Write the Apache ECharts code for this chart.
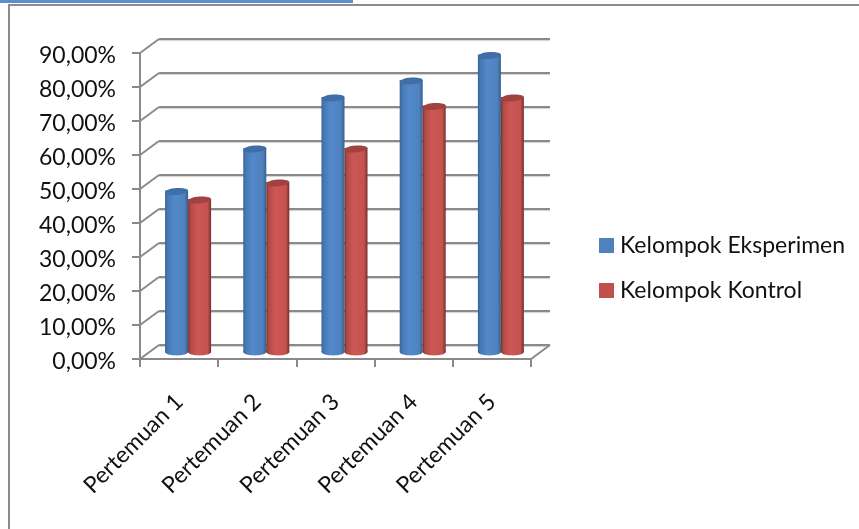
<!DOCTYPE html>
<html>
<head>
<meta charset="utf-8">
<style>html,body{margin:0;padding:0;background:#fff}#chart{width:859px;height:529px}</style>
<script src="https://cdn.jsdelivr.net/npm/echarts@6/dist/echarts.min.js"></script>
</head>
<body>
<div id="chart"></div>
<script>
// Attainment per meeting, in percent
const categories = ['Pertemuan 1', 'Pertemuan 2', 'Pertemuan 3', 'Pertemuan 4', 'Pertemuan 5'];
const eksperimen = [47.5, 60, 75, 80, 87.5];
const kontrol = [45, 50, 60, 72.5, 75];
const gridValues = [0, 10, 20, 30, 40, 50, 60, 70, 80, 90];

const GRID_COLOR = '#8a8a8a';
const FONT = 'Lato, "Noto Sans", sans-serif';

// Depth of the fake 3D box: front plane to the back wall
const WALL_DX = 19, WALL_DY = -14;
// Cylinders stand between the two planes
const BAR_DX = 9, BAR_DY = -7;
const BAR_W = 23, CAP_RY = 3.4, CAP_TILT = 0.08;

function cylinder(palette, side) {
  return function (params, api) {
    const idx = api.value(0);
    const top = api.coord([idx, api.value(1)]);
    const base = api.coord([idx, 0]);
    const cx = top[0] + BAR_DX + side * BAR_W / 2;
    const yTop = top[1] + BAR_DY;
    const yBase = base[1] + BAR_DY;
    const body = new echarts.graphic.LinearGradient(0, 0, 1, 0, [
      { offset: 0, color: palette.edge },
      { offset: 0.1, color: palette.side },
      { offset: 0.4, color: palette.light },
      { offset: 0.85, color: palette.main },
      { offset: 1, color: palette.edge }
    ]);
    return {
      type: 'group',
      children: [
        { type: 'ellipse', shape: { cx: cx, cy: yBase, rx: BAR_W / 2, ry: CAP_RY }, style: { fill: body } },
        { type: 'rect', shape: { x: cx - BAR_W / 2, y: yTop, width: BAR_W, height: yBase - yTop }, style: { fill: body } },
        {
          type: 'ellipse', x: cx, y: yTop + 1, rotation: CAP_TILT,
          shape: { cx: 0, cy: 0, rx: BAR_W / 2, ry: CAP_RY },
          style: { fill: palette.cap }
        }
      ]
    };
  };
}

const blue = { edge: '#34608f', side: '#4678b3', light: '#5289cb', main: '#4f81bd', cap: '#3f6fa6' };
const red = { edge: '#772e2c', side: '#b04a47', light: '#cd5755', main: '#c4524f', cap: '#a04240' };

const chart = echarts.init(document.getElementById('chart'), null, { renderer: 'canvas' });
chart.setOption({
  animation: false,
  backgroundColor: '#fff',
  textStyle: { fontFamily: FONT },
  graphic: [
    { type: 'rect', silent: true, shape: { x: 0, y: 0, width: 353, height: 3 }, style: { fill: '#5b8fd0' } },
    { type: 'rect', silent: true, shape: { x: 8, y: 4, width: 851, height: 2 }, style: { fill: '#8c8c8c' } },
    { type: 'rect', silent: true, shape: { x: 8, y: 4, width: 2, height: 525 }, style: { fill: '#8c8c8c' } }
  ],
  legend: {
    data: ['Kelompok Eksperimen', 'Kelompok Kontrol'],
    orient: 'vertical',
    left: 594,
    top: 229,
    itemWidth: 15,
    itemHeight: 15,
    itemGap: 22,
    icon: 'rect',
    selectedMode: false,
    textStyle: { fontFamily: FONT, fontSize: 23, color: '#111', padding: [0, 0, 0, 1] }
  },
  grid: [
    { left: 140, top: 53, width: 391, height: 306 },
    { left: 159, top: 39, width: 391, height: 306 }
  ],
  xAxis: [
    {
      type: 'category', gridIndex: 0, data: categories, boundaryGap: true,
      axisLine: { lineStyle: { color: GRID_COLOR, width: 2 } },
      axisTick: { show: true, alignWithLabel: false, length: 8, lineStyle: { color: GRID_COLOR, width: 2 } },
      axisLabel: { rotate: 45, fontSize: 23, color: '#111', margin: 39, fontFamily: FONT, interval: 0 }
    },
    {
      type: 'category', gridIndex: 1, data: categories,
      axisLine: { show: false }, axisTick: { show: false }, axisLabel: { show: false }
    }
  ],
  yAxis: [
    {
      type: 'value', gridIndex: 0, min: 0, max: 90, interval: 10,
      axisLine: { show: true, lineStyle: { color: GRID_COLOR, width: 2 } },
      axisTick: { show: true, length: 8, lineStyle: { color: GRID_COLOR, width: 2 } },
      splitLine: { show: false },
      axisLabel: {
        fontSize: 23, color: '#111', margin: 24, verticalAlign: 'top', lineHeight: 6, fontFamily: FONT,
        formatter: v => v.toFixed(2).replace('.', ',') + '%'
      }
    },
    {
      type: 'value', gridIndex: 1, min: 0, max: 90, interval: 10,
      axisLine: { show: false }, axisTick: { show: false }, axisLabel: { show: false },
      splitLine: {
        show: true,
        lineStyle: { color: GRID_COLOR, width: 2, shadowColor: 'rgba(0,0,0,0.18)', shadowOffsetY: 1, shadowBlur: 1 }
      }
    }
  ],
  series: [
    {
      // Diagonals joining each value on the front axis to the back wall
      type: 'custom', name: 'wall', xAxisIndex: 0, yAxisIndex: 0, silent: true, z: 1,
      data: gridValues.map(v => [0, v]),
      encode: { x: 0, y: 1 },
      renderItem: function (params, api) {
        const p = api.coord([0, api.value(1)]);
        const x0 = p[0] - api.size([1, 0])[0] / 2;
        return {
          type: 'line',
          shape: { x1: x0, y1: p[1], x2: x0 + WALL_DX, y2: p[1] + WALL_DY },
          style: { stroke: GRID_COLOR, lineWidth: 2 }
        };
      }
    },
    {
      // Right-hand edge of the floor
      type: 'custom', name: 'floor', xAxisIndex: 0, yAxisIndex: 0, silent: true, z: 1,
      data: [[categories.length - 1, 0]],
      encode: { x: 0, y: 1 },
      renderItem: function (params, api) {
        const p = api.coord([api.value(0), api.value(1)]);
        const x0 = p[0] + api.size([1, 0])[0] / 2;
        return {
          type: 'line',
          shape: { x1: x0, y1: p[1], x2: x0 + WALL_DX, y2: p[1] + WALL_DY },
          style: { stroke: GRID_COLOR, lineWidth: 2 }
        };
      }
    },
    {
      type: 'custom', name: 'Kelompok Eksperimen', xAxisIndex: 0, yAxisIndex: 0, z: 3,
      itemStyle: { color: '#4f81bd' },
      data: eksperimen.map((v, i) => [i, v]),
      encode: { x: 0, y: 1 },
      renderItem: cylinder(blue, -1)
    },
    {
      type: 'custom', name: 'Kelompok Kontrol', xAxisIndex: 0, yAxisIndex: 0, z: 4,
      itemStyle: { color: '#c0504d' },
      data: kontrol.map((v, i) => [i, v]),
      encode: { x: 0, y: 1 },
      renderItem: cylinder(red, 1)
    }
  ]
});
</script>
</body>
</html>
